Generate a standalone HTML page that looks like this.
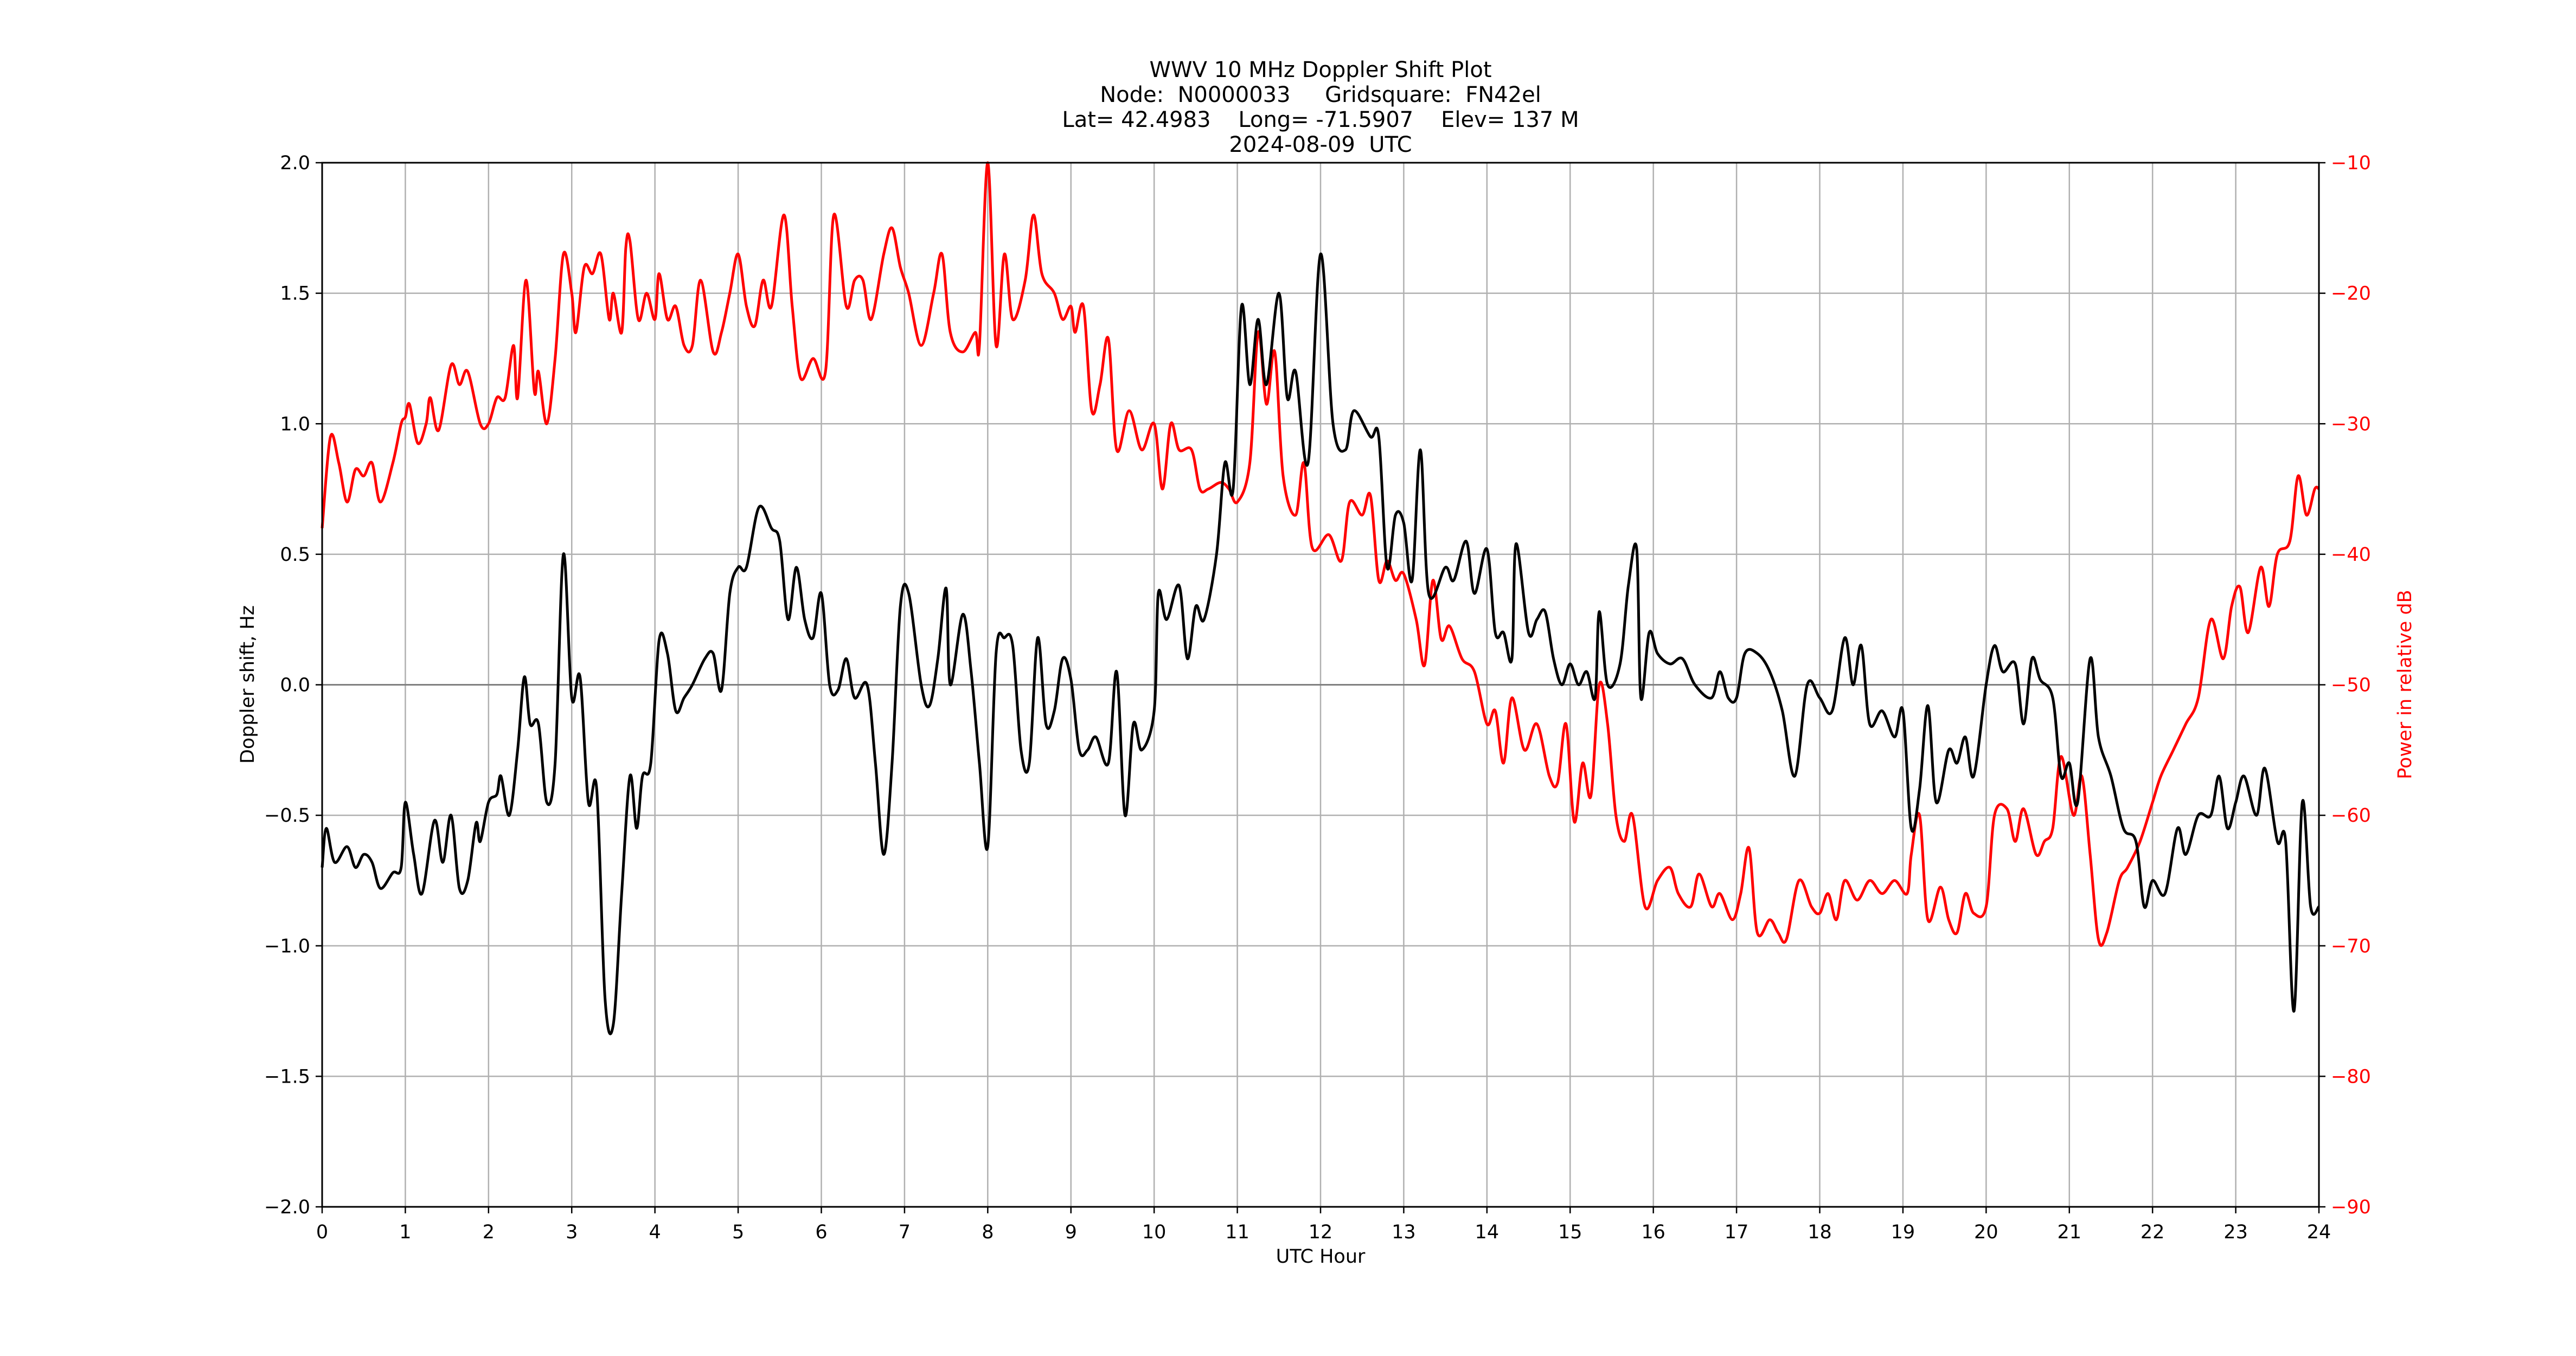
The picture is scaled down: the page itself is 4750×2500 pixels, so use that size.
<!DOCTYPE html>
<html><head><meta charset="utf-8"><style>
html,body{margin:0;padding:0;background:#fff;}
svg{display:block;font-family:"DejaVu Sans","Liberation Sans",sans-serif;}
</style></head><body>
<svg id="chart" width="4750" height="2500" viewBox="0 0 4750 2500">
<rect width="4750" height="2500" fill="#fff"/>
<g id="grid"></g>
<g id="series"></g>
<g id="axes"></g>
<g font-size="40" text-anchor="middle" fill="#000">
<text x="2435" y="142">WWV 10 MHz Doppler Shift Plot</text>
<text x="2435" y="188" xml:space="preserve">Node:  N0000033     Gridsquare:  FN42el</text>
<text x="2435" y="234" xml:space="preserve">Lat= 42.4983    Long= -71.5907    Elev= 137 M</text>
<text x="2435" y="280" xml:space="preserve">2024-08-09  UTC</text>
</g>
<text x="2435" y="2328" font-size="35" text-anchor="middle">UTC Hour</text>
<text transform="translate(468,1262) rotate(-90)" font-size="35" text-anchor="middle">Doppler shift, Hz</text>
<text transform="translate(4446,1262) rotate(-90)" font-size="35" text-anchor="middle" fill="#ff0000">Power in relative dB</text>
</svg>
<script>
const hoursD=[0,0.05,0.15,0.3,0.4,0.5,0.6,0.7,0.85,0.95,1.0,1.1,1.2,1.35,1.45,1.55,1.65,1.75,1.85,1.9,2.0,2.1,2.15,2.25,2.35,2.43,2.5,2.6,2.7,2.8,2.9,3.0,3.1,3.2,3.3,3.4,3.5,3.6,3.7,3.78,3.85,3.95,4.05,4.15,4.25,4.35,4.45,4.6,4.7,4.8,4.9,5.0,5.1,5.25,5.4,5.5,5.6,5.7,5.8,5.9,6.0,6.1,6.2,6.3,6.4,6.55,6.65,6.75,6.85,6.95,7.05,7.2,7.3,7.4,7.5,7.55,7.7,7.8,7.9,8.0,8.1,8.2,8.3,8.4,8.5,8.6,8.7,8.8,8.9,9.0,9.1,9.2,9.3,9.45,9.55,9.65,9.75,9.85,10.0,10.05,10.15,10.3,10.4,10.5,10.6,10.75,10.85,10.95,11.05,11.15,11.25,11.35,11.5,11.6,11.7,11.85,12.0,12.15,12.3,12.4,12.6,12.7,12.8,12.9,13.0,13.1,13.2,13.3,13.5,13.6,13.75,13.85,14.0,14.1,14.2,14.3,14.35,14.5,14.6,14.7,14.8,14.9,15.0,15.1,15.2,15.3,15.35,15.45,15.6,15.7,15.8,15.85,15.95,16.05,16.2,16.35,16.5,16.7,16.8,16.9,17.0,17.1,17.25,17.4,17.55,17.7,17.85,18.0,18.15,18.3,18.4,18.5,18.6,18.75,18.9,19.0,19.1,19.2,19.3,19.4,19.55,19.65,19.75,19.85,20.0,20.1,20.2,20.35,20.45,20.55,20.65,20.8,20.9,21.0,21.1,21.25,21.35,21.5,21.65,21.8,21.9,22.0,22.15,22.3,22.4,22.55,22.7,22.8,22.9,23.0,23.1,23.25,23.35,23.5,23.6,23.7,23.8,23.9,24];
const doppler=[-0.7,-0.55,-0.68,-0.62,-0.7,-0.65,-0.68,-0.78,-0.72,-0.7,-0.45,-0.65,-0.8,-0.52,-0.68,-0.5,-0.78,-0.75,-0.53,-0.6,-0.45,-0.42,-0.35,-0.5,-0.25,0.03,-0.15,-0.15,-0.45,-0.3,0.5,-0.05,0.03,-0.45,-0.4,-1.2,-1.3,-0.8,-0.35,-0.55,-0.35,-0.3,0.17,0.12,-0.1,-0.05,0.0,0.1,0.12,-0.02,0.35,0.45,0.45,0.68,0.6,0.55,0.25,0.45,0.25,0.18,0.35,0.0,-0.02,0.1,-0.05,0.0,-0.3,-0.65,-0.3,0.3,0.35,0.0,-0.08,0.1,0.37,0.0,0.27,0.05,-0.3,-0.62,0.12,0.18,0.15,-0.25,-0.3,0.18,-0.15,-0.1,0.1,0.02,-0.25,-0.25,-0.2,-0.3,0.05,-0.5,-0.15,-0.25,-0.1,0.35,0.25,0.38,0.1,0.3,0.25,0.5,0.85,0.75,1.45,1.15,1.4,1.15,1.5,1.1,1.2,0.85,1.65,1.0,0.9,1.05,0.95,0.95,0.45,0.65,0.62,0.4,0.9,0.35,0.45,0.4,0.55,0.35,0.52,0.2,0.2,0.1,0.54,0.2,0.25,0.28,0.1,0.0,0.08,0.0,0.05,-0.05,0.28,0.0,0.08,0.38,0.52,-0.05,0.2,0.12,0.08,0.1,0.0,-0.05,0.05,-0.05,-0.05,0.12,0.12,0.05,-0.1,-0.35,0.0,-0.05,-0.1,0.18,0.0,0.15,-0.15,-0.1,-0.2,-0.1,-0.55,-0.4,-0.08,-0.45,-0.25,-0.3,-0.2,-0.35,0.0,0.15,0.05,0.08,-0.15,0.1,0.02,-0.05,-0.35,-0.3,-0.45,0.1,-0.2,-0.35,-0.55,-0.6,-0.85,-0.75,-0.8,-0.55,-0.65,-0.5,-0.5,-0.35,-0.55,-0.45,-0.35,-0.5,-0.32,-0.6,-0.6,-1.25,-0.45,-0.85,-0.85];
const hoursP=[0,0.1,0.2,0.3,0.4,0.5,0.6,0.7,0.85,0.95,1.0,1.05,1.15,1.25,1.3,1.4,1.55,1.65,1.75,1.9,2.0,2.1,2.2,2.3,2.35,2.45,2.55,2.6,2.7,2.8,2.9,3.0,3.05,3.15,3.25,3.35,3.45,3.5,3.6,3.65,3.7,3.8,3.9,4.0,4.05,4.15,4.25,4.35,4.45,4.55,4.7,4.8,4.9,5.0,5.1,5.2,5.3,5.4,5.55,5.65,5.75,5.9,6.05,6.15,6.3,6.4,6.5,6.6,6.75,6.85,6.95,7.05,7.2,7.35,7.45,7.55,7.7,7.85,7.9,8.0,8.1,8.2,8.3,8.45,8.55,8.65,8.8,8.9,9.0,9.05,9.15,9.25,9.35,9.45,9.55,9.7,9.85,10.0,10.1,10.2,10.3,10.45,10.55,10.65,10.8,10.9,11.0,11.15,11.25,11.35,11.45,11.55,11.7,11.8,11.9,12.1,12.25,12.35,12.5,12.6,12.7,12.8,12.9,13.0,13.15,13.25,13.35,13.45,13.55,13.7,13.85,14.0,14.1,14.2,14.3,14.45,14.6,14.75,14.85,14.95,15.05,15.15,15.25,15.35,15.45,15.55,15.65,15.75,15.9,16.05,16.2,16.3,16.45,16.55,16.7,16.8,16.95,17.05,17.15,17.25,17.4,17.5,17.6,17.75,17.9,18.0,18.1,18.2,18.3,18.45,18.6,18.75,18.9,19.05,19.1,19.2,19.3,19.45,19.55,19.65,19.75,19.85,20.0,20.1,20.25,20.35,20.45,20.6,20.7,20.8,20.9,21.05,21.15,21.25,21.35,21.45,21.6,21.7,21.85,22.0,22.1,22.25,22.4,22.55,22.7,22.85,22.95,23.05,23.15,23.3,23.4,23.5,23.65,23.75,23.85,23.95,24];
const power=[-38,-31,-33,-36,-33.5,-34,-33,-36,-33,-30,-29.5,-28.5,-31.5,-30,-28,-30.5,-25.5,-27,-26,-30,-30,-28,-28,-24,-28,-19,-27.5,-26,-30,-25,-17,-20,-23,-18,-18.5,-17,-22,-20,-23,-16.5,-16,-22,-20,-22,-18.5,-22,-21,-24,-24,-19,-24.5,-23,-20,-17,-21,-22.5,-19,-21,-14,-21,-26.5,-25,-26,-14,-21,-19,-19,-22,-17,-15,-18,-20,-24,-20,-17,-23,-24.5,-23,-24,-10,-24,-17,-22,-19,-14,-18.5,-20,-22,-21,-23,-21,-29,-27,-23.5,-32,-29,-32,-30,-35,-30,-32,-32,-35,-35,-34.5,-35,-36,-33,-23,-28.5,-24.5,-34,-37,-33,-39.5,-38.5,-40.5,-36,-37,-35.5,-42,-40.5,-42,-41.5,-45,-48.5,-42,-46.5,-45.5,-48,-49,-53,-52,-56,-51,-55,-53,-57,-57.5,-53,-60.5,-56,-58.5,-50,-53,-60,-62,-60,-67,-65,-64,-66,-67,-64.5,-67,-66,-68,-66,-62.5,-69,-68,-69,-69.5,-65,-67,-67.5,-66,-68,-65,-66.5,-65,-66,-65,-66,-63,-60,-68,-65.5,-68,-69,-66,-67.5,-67,-60,-59.5,-62,-59.5,-63,-62,-61,-55.5,-60,-57,-63,-69.5,-69,-65,-64,-62,-59,-57,-55,-53,-51,-45,-48,-44,-42.5,-46,-41,-44,-40,-39,-34,-37,-35,-35];
const xTicks=[0,1,2,3,4,5,6,7,8,9,10,11,12,13,14,15,16,17,18,19,20,21,22,23,24];
const yTicksLeft=[-2.0,-1.5,-1.0,-0.5,0.0,0.5,1.0,1.5,2.0];
const yTicksRight=[-90,-80,-70,-60,-50,-40,-30,-20,-10];

const L=594,R=4276,T=300,B=2225;
const NS='http://www.w3.org/2000/svg';
const xs=h=>L+(h/24)*(R-L);
const yD=v=>B-((v+2)/4)*(B-T);
const yP=v=>B-((v+90)/80)*(B-T);
function mk(tag,attrs,parent){const e=document.createElementNS(NS,tag);for(const k in attrs)e.setAttribute(k,attrs[k]);parent.appendChild(e);return e;}
const grid=document.getElementById('grid'),axes=document.getElementById('axes'),series=document.getElementById('series');
const minus=s=>String(s).replace('-','\u2212');
xTicks.forEach(t=>{
  const g=mk('line',{x1:xs(t),x2:xs(t),y1:T,y2:B,stroke:'#b0b0b0','stroke-width':2.5},grid);
  
  
  const tk=mk('line',{x1:xs(t),x2:xs(t),y1:B,y2:B+12,stroke:'#000','stroke-width':2.5},axes);
  
  
  const tx=mk('text',{x:xs(t),y:B+58,'font-size':35,'text-anchor':'middle'},axes);
  tx.textContent=t;
  
  
});
yTicksLeft.forEach(t=>{
  const g=mk('line',{x1:L,x2:R,y1:yD(t),y2:yD(t),stroke:t===0?'#808080':'#b0b0b0','stroke-width':t===0?3:2.5},grid);
  
  
  const tk=mk('line',{x1:L-12,x2:L,y1:yD(t),y2:yD(t),stroke:'#000','stroke-width':2.5},axes);
  
  
  const tx=mk('text',{x:L-22,y:yD(t)+12,'font-size':35,'text-anchor':'end'},axes);
  tx.textContent=minus(t.toFixed(1));
  
  
});
yTicksRight.forEach(t=>{
  const tk=mk('line',{x1:R,x2:R+12,y1:yP(t),y2:yP(t),stroke:'#000','stroke-width':2.5},axes);
  
  
  const tx=mk('text',{x:R+22,y:yP(t)+12,'font-size':35,'text-anchor':'start',fill:'#ff0000'},axes);
  tx.textContent=minus(t);
  
  
});
function smooth(pts){
  let d='M'+pts[0][0].toFixed(1)+','+pts[0][1].toFixed(1);
  for(let i=0;i<pts.length-1;i++){
    const p0=pts[Math.max(0,i-1)],p1=pts[i],p2=pts[i+1],p3=pts[Math.min(pts.length-1,i+2)];
    const c1x=p1[0]+(p2[0]-p0[0])/6,c1y=p1[1]+(p2[1]-p0[1])/6;
    const c2x=p2[0]-(p3[0]-p1[0])/6,c2y=p2[1]-(p3[1]-p1[1])/6;
    d+='C'+c1x.toFixed(1)+','+c1y.toFixed(1)+' '+c2x.toFixed(1)+','+c2y.toFixed(1)+' '+p2[0].toFixed(1)+','+p2[1].toFixed(1);
  }
  return d;
}
const pLine=mk('path',{d:smooth(hoursP.map((h,i)=>[xs(h),yP(power[i])])),fill:'none',stroke:'#ff0000','stroke-width':5,'stroke-linejoin':'round'},series);


const dLine=mk('path',{d:smooth(hoursD.map((h,i)=>[xs(h),yD(doppler[i])])),fill:'none',stroke:'#000','stroke-width':5,'stroke-linejoin':'round'},series);


const fr=mk('rect',{x:L,y:T,width:R-L,height:B-T,fill:'none',stroke:'#000','stroke-width':3},axes);


</script>
</body></html>
